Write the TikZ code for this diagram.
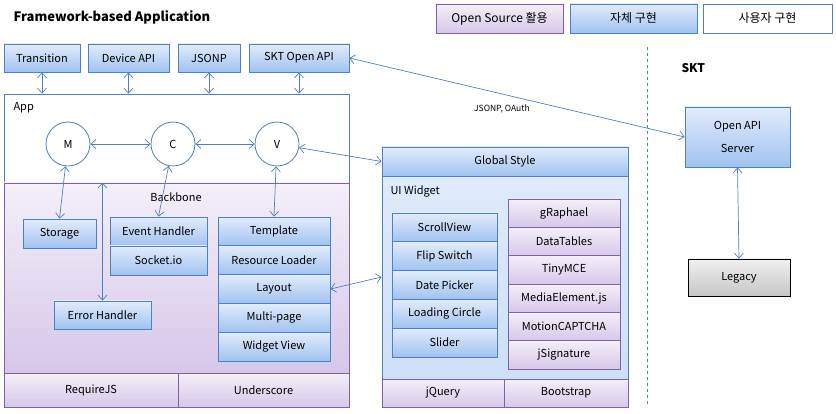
\documentclass[tikz,border=0pt]{standalone}
\usepackage{fontspec}
\setmainfont{Noto Sans CJK KR}
\usepackage{tikz}
\usetikzlibrary{arrows.meta}
\usetikzlibrary{shadows}
\definecolor{lineblue}{RGB}{79,129,189}
\definecolor{linepurple}{RGB}{128,100,162}
\definecolor{bluetop}{RGB}{226,236,252}
\definecolor{bluebot}{RGB}{160,194,240}
\definecolor{purptop}{RGB}{244,239,249}
\definecolor{purpbot}{RGB}{214,199,234}
\def\boxfont{\fontsize{11}{13}\selectfont}

\begin{document}
\begin{tikzpicture}[x=1pt,y=-1pt,
	box/.style={draw,line width=0.8pt,font=\boxfont,inner sep=1pt,drop shadow={shadow xshift=1.2pt,shadow yshift=-1.2pt,opacity=.3}},
	bluebox/.style={box,draw=lineblue,top color=bluetop,bottom color=bluebot},
	purpbox/.style={box,draw=linepurple,top color=purptop,bottom color=purpbot},
	legbox/.style={minimum width=127,minimum height=29,font=\fontsize{12}{14}\selectfont},
	mvc/.style={circle,draw=lineblue,line width=0.8pt,fill=white,minimum size=44pt,font=\boxfont},
	link/.style={draw=lineblue,line width=0.7pt,<->,>={Straight Barb[length=5pt,width=9pt]}}]
	\useasboundingbox (0,0) rectangle (836,414);
	\node[anchor=west,font=\fontsize{13}{15}\selectfont\bfseries] (title) at (10,17) {Framework-based Application};
	% legend
	\node[purpbox,legbox] (os) at (499.5,18.5) {Open Source 활용};
	\node[bluebox,legbox] (own) at (633.5,18.5) {자체 구현};
	\node[box,legbox,draw=lineblue,fill=white,minimum width=129] (user) at (767.5,18.5) {사용자 구현};
	% top apis
	\node[bluebox,minimum width=76,minimum height=28] (trans) at (42,58) {Transition};
	\node[bluebox,minimum width=81,minimum height=28] (devapi) at (128.5,58) {Device API};
	\node[bluebox,minimum width=62,minimum height=28] (jsonp) at (209,58) {JSONP};
	\node[bluebox,minimum width=100,minimum height=28] (sktapi) at (299,58) {SKT Open API};
	% app
	\node[draw=lineblue,line width=0.8pt,fill=white,minimum width=345,minimum height=313] (app) at (176.5,250.5) {};
	\node[anchor=west,font=\boxfont] (applbl) at (10,108) {App};
	\node[draw=linepurple,line width=0.8pt,top color=purptop,bottom color=purpbot,minimum width=345,minimum height=190] (bb) at (176.5,278) {};
	\node[font=\boxfont] (bblbl) at (176,197) {Backbone};
	\node[purpbox,minimum width=174,minimum height=34] (reqjs) at (91,390) {RequireJS};
	\node[purpbox,minimum width=171,minimum height=34] (undersc) at (263.5,390) {Underscore};
	\node[mvc] (m) at (68,144) {M};
	\node[mvc] (c) at (173,144) {C};
	\node[mvc] (v) at (277,144) {V};
	\node[bluebox,minimum width=73,minimum height=29] (storage) at (59.5,233.5) {Storage};
	\node[bluebox,minimum width=97,minimum height=29] (evt) at (158.5,231.5) {Event Handler};
	\node[bluebox,minimum width=97,minimum height=29] (sock) at (158.5,260.5) {Socket.io};
	\node[bluebox,minimum width=97,minimum height=28] (errh) at (102.5,315) {Error Handler};
	\node[bluebox,minimum width=112,minimum height=28.8] (tmpl) at (274,231.4) {Template};
	\node[bluebox,minimum width=112,minimum height=28.8] (resld) at (274,260.2) {Resource Loader};
	\node[bluebox,minimum width=112,minimum height=28.8] (layout) at (274,289) {Layout};
	\node[bluebox,minimum width=112,minimum height=28.8] (mpage) at (274,317.8) {Multi-page};
	\node[bluebox,minimum width=112,minimum height=28.8] (wview) at (274,346.6) {Widget View};
	% ui widget
	\node[draw=lineblue,line width=0.8pt,top color=bluetop,bottom color=bluebot!55,minimum width=246,minimum height=260,drop shadow={shadow xshift=1.2pt,shadow yshift=-1.2pt,opacity=.3}] (uiw) at (505,277) {};
	\node[bluebox,minimum width=246,minimum height=29] (gstyle) at (505,161.5) {Global Style};
	\node[anchor=west,font=\boxfont] (uiwlbl) at (387,191) {UI Widget};
	\node[bluebox,minimum width=105,minimum height=28.8] (scroll) at (444.5,227.4) {ScrollView};
	\node[bluebox,minimum width=105,minimum height=28.8] (flip) at (444.5,256.2) {Flip Switch};
	\node[bluebox,minimum width=105,minimum height=28.8] (date) at (444.5,285) {Date Picker};
	\node[bluebox,minimum width=105,minimum height=28.8] (loadc) at (444.5,313.8) {Loading Circle};
	\node[bluebox,minimum width=105,minimum height=28.8] (slider) at (444.5,342.6) {Slider};
	\node[purpbox,minimum width=112,minimum height=28.3] (graph) at (564,213.2) {gRaphael};
	\node[purpbox,minimum width=112,minimum height=28.3] (dtab) at (564,241.5) {DataTables};
	\node[purpbox,minimum width=112,minimum height=28.3] (tmce) at (564,269.8) {TinyMCE};
	\node[purpbox,minimum width=112,minimum height=28.3] (media) at (564,298.2) {MediaElement.js};
	\node[purpbox,minimum width=112,minimum height=28.3] (motion) at (564,326.5) {MotionCAPTCHA};
	\node[purpbox,minimum width=112,minimum height=28.3] (jsig) at (564,354.8) {jSignature};
	\node[purpbox,minimum width=122,minimum height=28] (jquery) at (443,393) {jQuery};
	\node[purpbox,minimum width=124,minimum height=28] (bootstr) at (566,393) {Bootstrap};
	% skt side
	\coordinate (septop) at (647,47);
	\coordinate (sepbot) at (647,407);
	\draw[lineblue,line width=0.8pt,dashed] (septop)--(sepbot);
	\node[anchor=west,font=\fontsize{12}{14}\selectfont\bfseries] (skt) at (678,68) {SKT};
	\node[bluebox,minimum width=105,minimum height=60,align=center,font=\fontsize{11}{23}\selectfont] (oapi) at (737.5,137) {Open API\\Server};
	\node[draw=black,line width=0.9pt,top color=gray!12,bottom color=gray!45,minimum width=102,minimum height=37,font=\boxfont,drop shadow={shadow xshift=1.2pt,shadow yshift=-1.2pt,opacity=.3}] (legacy) at (739,277.5) {Legacy};
	% connectors
	\draw[link] (trans.south)--(trans.south |- app.north);
	\draw[link] (devapi.south)--(devapi.south |- app.north);
	\draw[link] (jsonp.south)--(jsonp.south |- app.north);
	\draw[link] (sktapi.south)--(sktapi.south |- app.north);
	\draw[link] (m)--(c);
	\draw[link] (c)--(v);
	\draw[link] (m)--(storage.north);
	\draw[link] (c)--(evt.north);
	\draw[link] (v)--(tmpl.north);
	\draw[link] (errh.north)--(errh.north |- bb.north);
	\draw[link] (v)--(gstyle.west);
	\draw[link] (layout.east)--(uiw.west);
	\draw[link] (sktapi.east)--(oapi.west) node[pos=0.455,below=7pt,font=\fontsize{8.5}{10}\selectfont,text=black] (proto) {JSONP, OAuth};
	\draw[link] (oapi.south)--(legacy.north);
\end{tikzpicture}
\end{document}
